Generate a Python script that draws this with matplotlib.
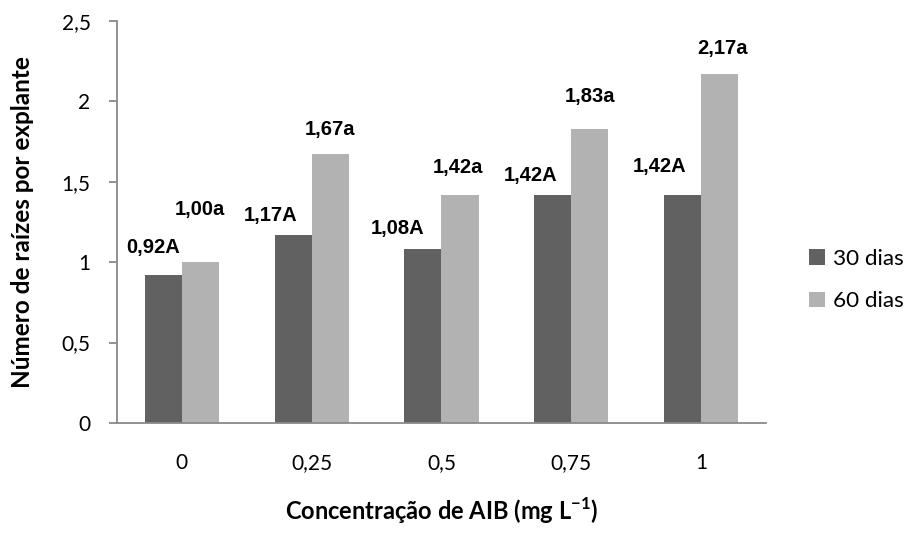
import numpy as np
import matplotlib.pyplot as plt

plt.rcParams['font.family'] = ['Lato', 'DejaVu Sans']
plt.rcParams['mathtext.fontset'] = 'custom'
plt.rcParams['mathtext.rm'] = 'Lato'
plt.rcParams['mathtext.bf'] = 'Lato:bold'

# data
categories = ['0', '0,25', '0,5', '0,75', '1']
dias30 = [0.92, 1.17, 1.08, 1.42, 1.42]
dias60 = [1.00, 1.67, 1.42, 1.83, 2.17]
labels30 = ['0,92A', '1,17A', '1,08A', '1,42A', '1,42A']
labels60 = ['1,00a', '1,67a', '1,42a', '1,83a', '2,17a']

# label nudges (pixels) as placed in the original chart
off30 = [(-10, 18), (-23, 10), (-25, 11), (-22, 10), (-23, 19)]
off60 = [(-1, 43), (0, 15), (-2, 18), (0, 23), (3, 16)]

dark = '#616161'
light = '#b2b2b2'
axcol = '#898989'

fig = plt.figure(figsize=(9.07, 5.34), dpi=100)
ax = fig.add_axes([0.129, 0.208, 0.7155, 0.753])

x = np.arange(len(categories))
w = 1 / 3.5
b1 = ax.bar(x - w / 2, dias30, width=w, color=dark, label='30 dias')
b2 = ax.bar(x + w / 2, dias60, width=w, color=light, label='60 dias')

for bars, labs, offs in [(b1, labels30, off30), (b2, labels60, off60)]:
    for bar, lab, (dx, dy) in zip(bars, labs, offs):
        ax.annotate(lab, (bar.get_x() + bar.get_width() / 2, bar.get_height()),
                    xytext=(dx, dy), textcoords='offset pixels',
                    ha='center', va='bottom', fontsize=14.5, fontweight='bold',
                    family='Liberation Sans')

ax.set_xlim(-0.5, len(categories) - 0.5)
ax.set_ylim(0, 2.5)
ax.set_yticks([0, 0.5, 1, 1.5, 2, 2.5])
ax.set_yticklabels(['0', '0,5', '1', '1,5', '2', '2,5'])
ax.set_xticks(x)
ax.set_xticklabels(categories)

for s in ['top', 'right']:
    ax.spines[s].set_visible(False)
for s in ['left', 'bottom']:
    ax.spines[s].set_color(axcol)
    ax.spines[s].set_linewidth(1.3)
ax.tick_params(axis='y', length=6, color=axcol, width=1.3, labelsize=15, pad=13)
ax.tick_params(axis='x', length=0, labelsize=15, pad=22)

ax.set_ylabel('Número de raízes por explante', fontsize=17.5, fontweight='bold')
ax.yaxis.set_label_coords(-0.128, 0.5)
ax.set_xlabel(r'Concentração de AIB (mg L$^{\mathbf{-1}}$)', fontsize=17,
              fontweight='bold')
ax.xaxis.set_label_coords(0.5, -0.18)

ax.legend(loc='center left', bbox_to_anchor=(1.035, 0.355), frameon=False,
          fontsize=16.2, handlelength=0.7, handleheight=0.7, handletextpad=0.35,
          labelspacing=1.0)

plt.savefig('out.png', dpi=100)
